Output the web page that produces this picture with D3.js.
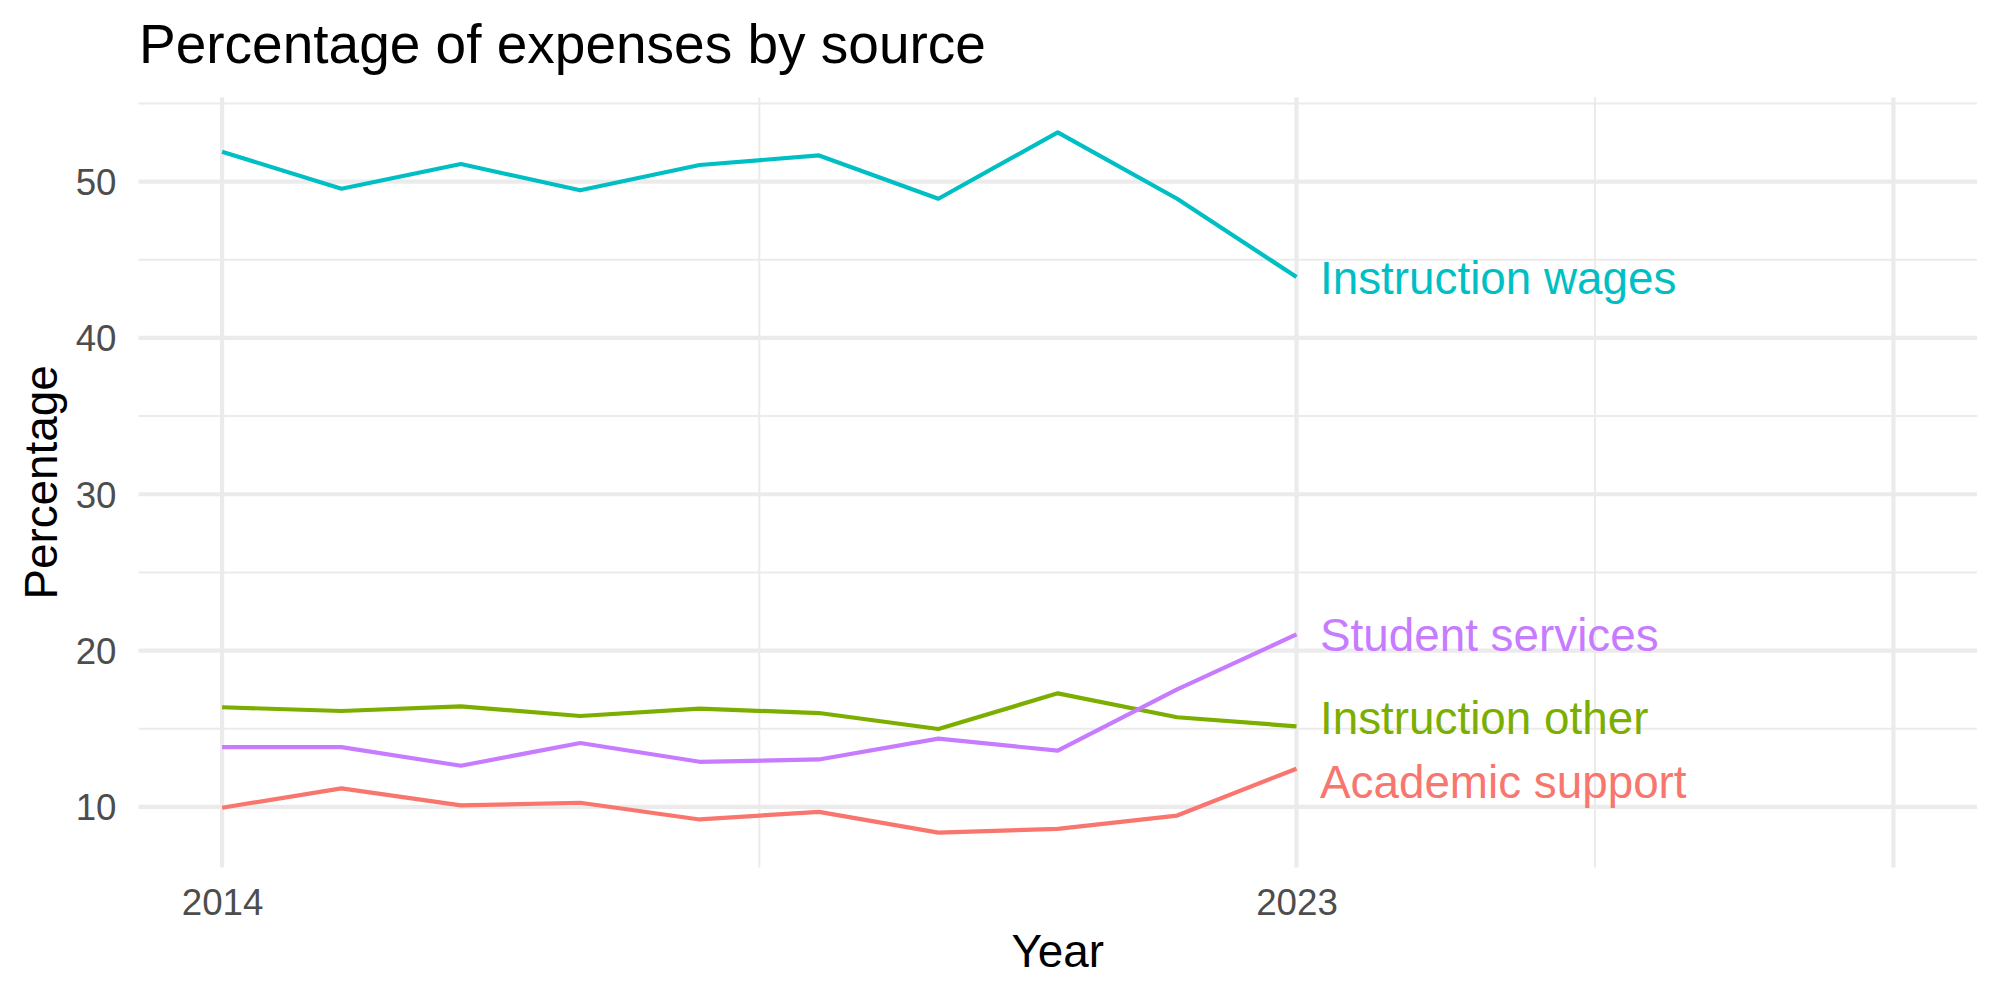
<!DOCTYPE html>
<html>
<head>
<meta charset="utf-8">
<script src="https://cdn.jsdelivr.net/npm/d3@7"></script>
<style>
  html, body { margin: 0; padding: 0; background: #fff; }
  svg { display: block; font-family: "Liberation Sans", Arial, Helvetica, sans-serif; }
</style>
</head>
<body>
<svg id="chart" width="2000" height="1000"></svg>
<script>
// ---- data ----
const years = [2014, 2015, 2016, 2017, 2018, 2019, 2020, 2021, 2022, 2023];
const seriesNames = ["Academic support", "Instruction other", "Instruction wages", "Student services"];
const seriesColors = ["#F8766D", "#7CAE00", "#00BFC4", "#C77CFF"];
const academicSupport = [9.94, 11.18, 10.09, 10.26, 9.19, 9.68, 8.35, 8.59, 9.44, 12.44];
const instructionOther = [16.37, 16.13, 16.43, 15.81, 16.28, 16.00, 14.98, 17.26, 15.73, 15.15];
const instructionWages = [51.92, 49.55, 51.13, 49.45, 51.07, 51.68, 48.91, 53.16, 48.91, 43.90];
const studentServices = [13.82, 13.82, 12.63, 14.08, 12.88, 13.03, 14.36, 13.59, 17.52, 21.03];
const labelY = [11.64, 15.70, 43.87, 21.04];   // repelled label positions
const xTickValues = [2014, 2023];
const xMajorGrid = [2014, 2023, 2028];
const xMinorGrid = [2018.5, 2025.5];
const yTickValues = [10, 20, 30, 40, 50];
const yMinorGrid = [15, 25, 35, 45, 55];

const seriesValues = [academicSupport, instructionOther, instructionWages, studentServices];

// ---- layout ----
const panel = { left: 138.5, right: 1977, top: 97.3, bottom: 867.6 };
const svg = d3.select("#chart");

const x = d3.scaleLinear().domain([2013.3, 2028.7]).range([panel.left, panel.right]);
const y = d3.scaleLinear().domain([6.11, 55.40]).range([panel.bottom, panel.top]);

const grid = svg.append("g");
// minor grid
grid.selectAll(".ymin").data(yMinorGrid.filter(v => y(v) >= panel.top)).join("line")
  .attr("x1", panel.left).attr("x2", panel.right)
  .attr("y1", d => y(d)).attr("y2", d => y(d))
  .attr("stroke", "#EBEBEB").attr("stroke-width", 2);
grid.selectAll(".xmin").data(xMinorGrid).join("line")
  .attr("y1", panel.top).attr("y2", panel.bottom)
  .attr("x1", d => x(d)).attr("x2", d => x(d))
  .attr("stroke", "#EBEBEB").attr("stroke-width", 2);
// major grid
grid.selectAll(".ymaj").data(yTickValues).join("line")
  .attr("x1", panel.left).attr("x2", panel.right)
  .attr("y1", d => y(d)).attr("y2", d => y(d))
  .attr("stroke", "#EBEBEB").attr("stroke-width", 4.2);
grid.selectAll(".xmaj").data(xMajorGrid).join("line")
  .attr("y1", panel.top).attr("y2", panel.bottom)
  .attr("x1", d => x(d)).attr("x2", d => x(d))
  .attr("stroke", "#EBEBEB").attr("stroke-width", 4.2);

// axes (text only)
const yAxis = d3.axisLeft(y).tickValues(yTickValues).tickSize(0).tickPadding(22);
const gy = svg.append("g").attr("transform", `translate(${panel.left},0)`).call(yAxis);
gy.select(".domain").remove();
gy.selectAll("text").attr("font-size", 36.7).attr("fill", "#4D4D4D")
  .attr("font-family", "Liberation Sans, Arial, sans-serif").attr("dy", "0.35em");

const xAxis = d3.axisBottom(x).tickValues(xTickValues).tickFormat(d3.format("d")).tickSize(0).tickPadding(0);
const gx = svg.append("g").attr("transform", `translate(0,${panel.bottom})`).call(xAxis);
gx.select(".domain").remove();
gx.selectAll("text").attr("font-size", 36.7).attr("fill", "#4D4D4D")
  .attr("font-family", "Liberation Sans, Arial, sans-serif")
  .attr("dy", null).attr("y", 47.4);

// lines
const line = d3.line().x((d, i) => x(years[i])).y(d => y(d));
svg.append("g").selectAll("path").data(seriesValues).join("path")
  .attr("d", d => line(d))
  .attr("fill", "none")
  .attr("stroke", (d, i) => seriesColors[i])
  .attr("stroke-width", 4.2)
  .attr("stroke-linejoin", "round");

// labels
svg.append("g").selectAll("text").data(seriesNames).join("text")
  .attr("x", x(years[years.length - 1]) + 23.5)
  .attr("y", (d, i) => y(labelY[i]))
  .attr("dy", "0.36em")
  .attr("font-size", 45.8)
  .attr("fill", (d, i) => seriesColors[i])
  .text(d => d);

// titles
svg.append("text").attr("x", 139).attr("y", 63.3)
  .attr("font-size", 55).attr("fill", "#000").text("Percentage of expenses by source");
svg.append("text").attr("x", (panel.left + panel.right) / 2).attr("y", 966.7)
  .attr("text-anchor", "middle").attr("font-size", 45.8).attr("fill", "#000").text("Year");
svg.append("text")
  .attr("transform", `translate(56.7,${(panel.top + panel.bottom) / 2}) rotate(-90)`)
  .attr("text-anchor", "middle").attr("font-size", 45.8).attr("fill", "#000").text("Percentage");
</script>
</body>
</html>
